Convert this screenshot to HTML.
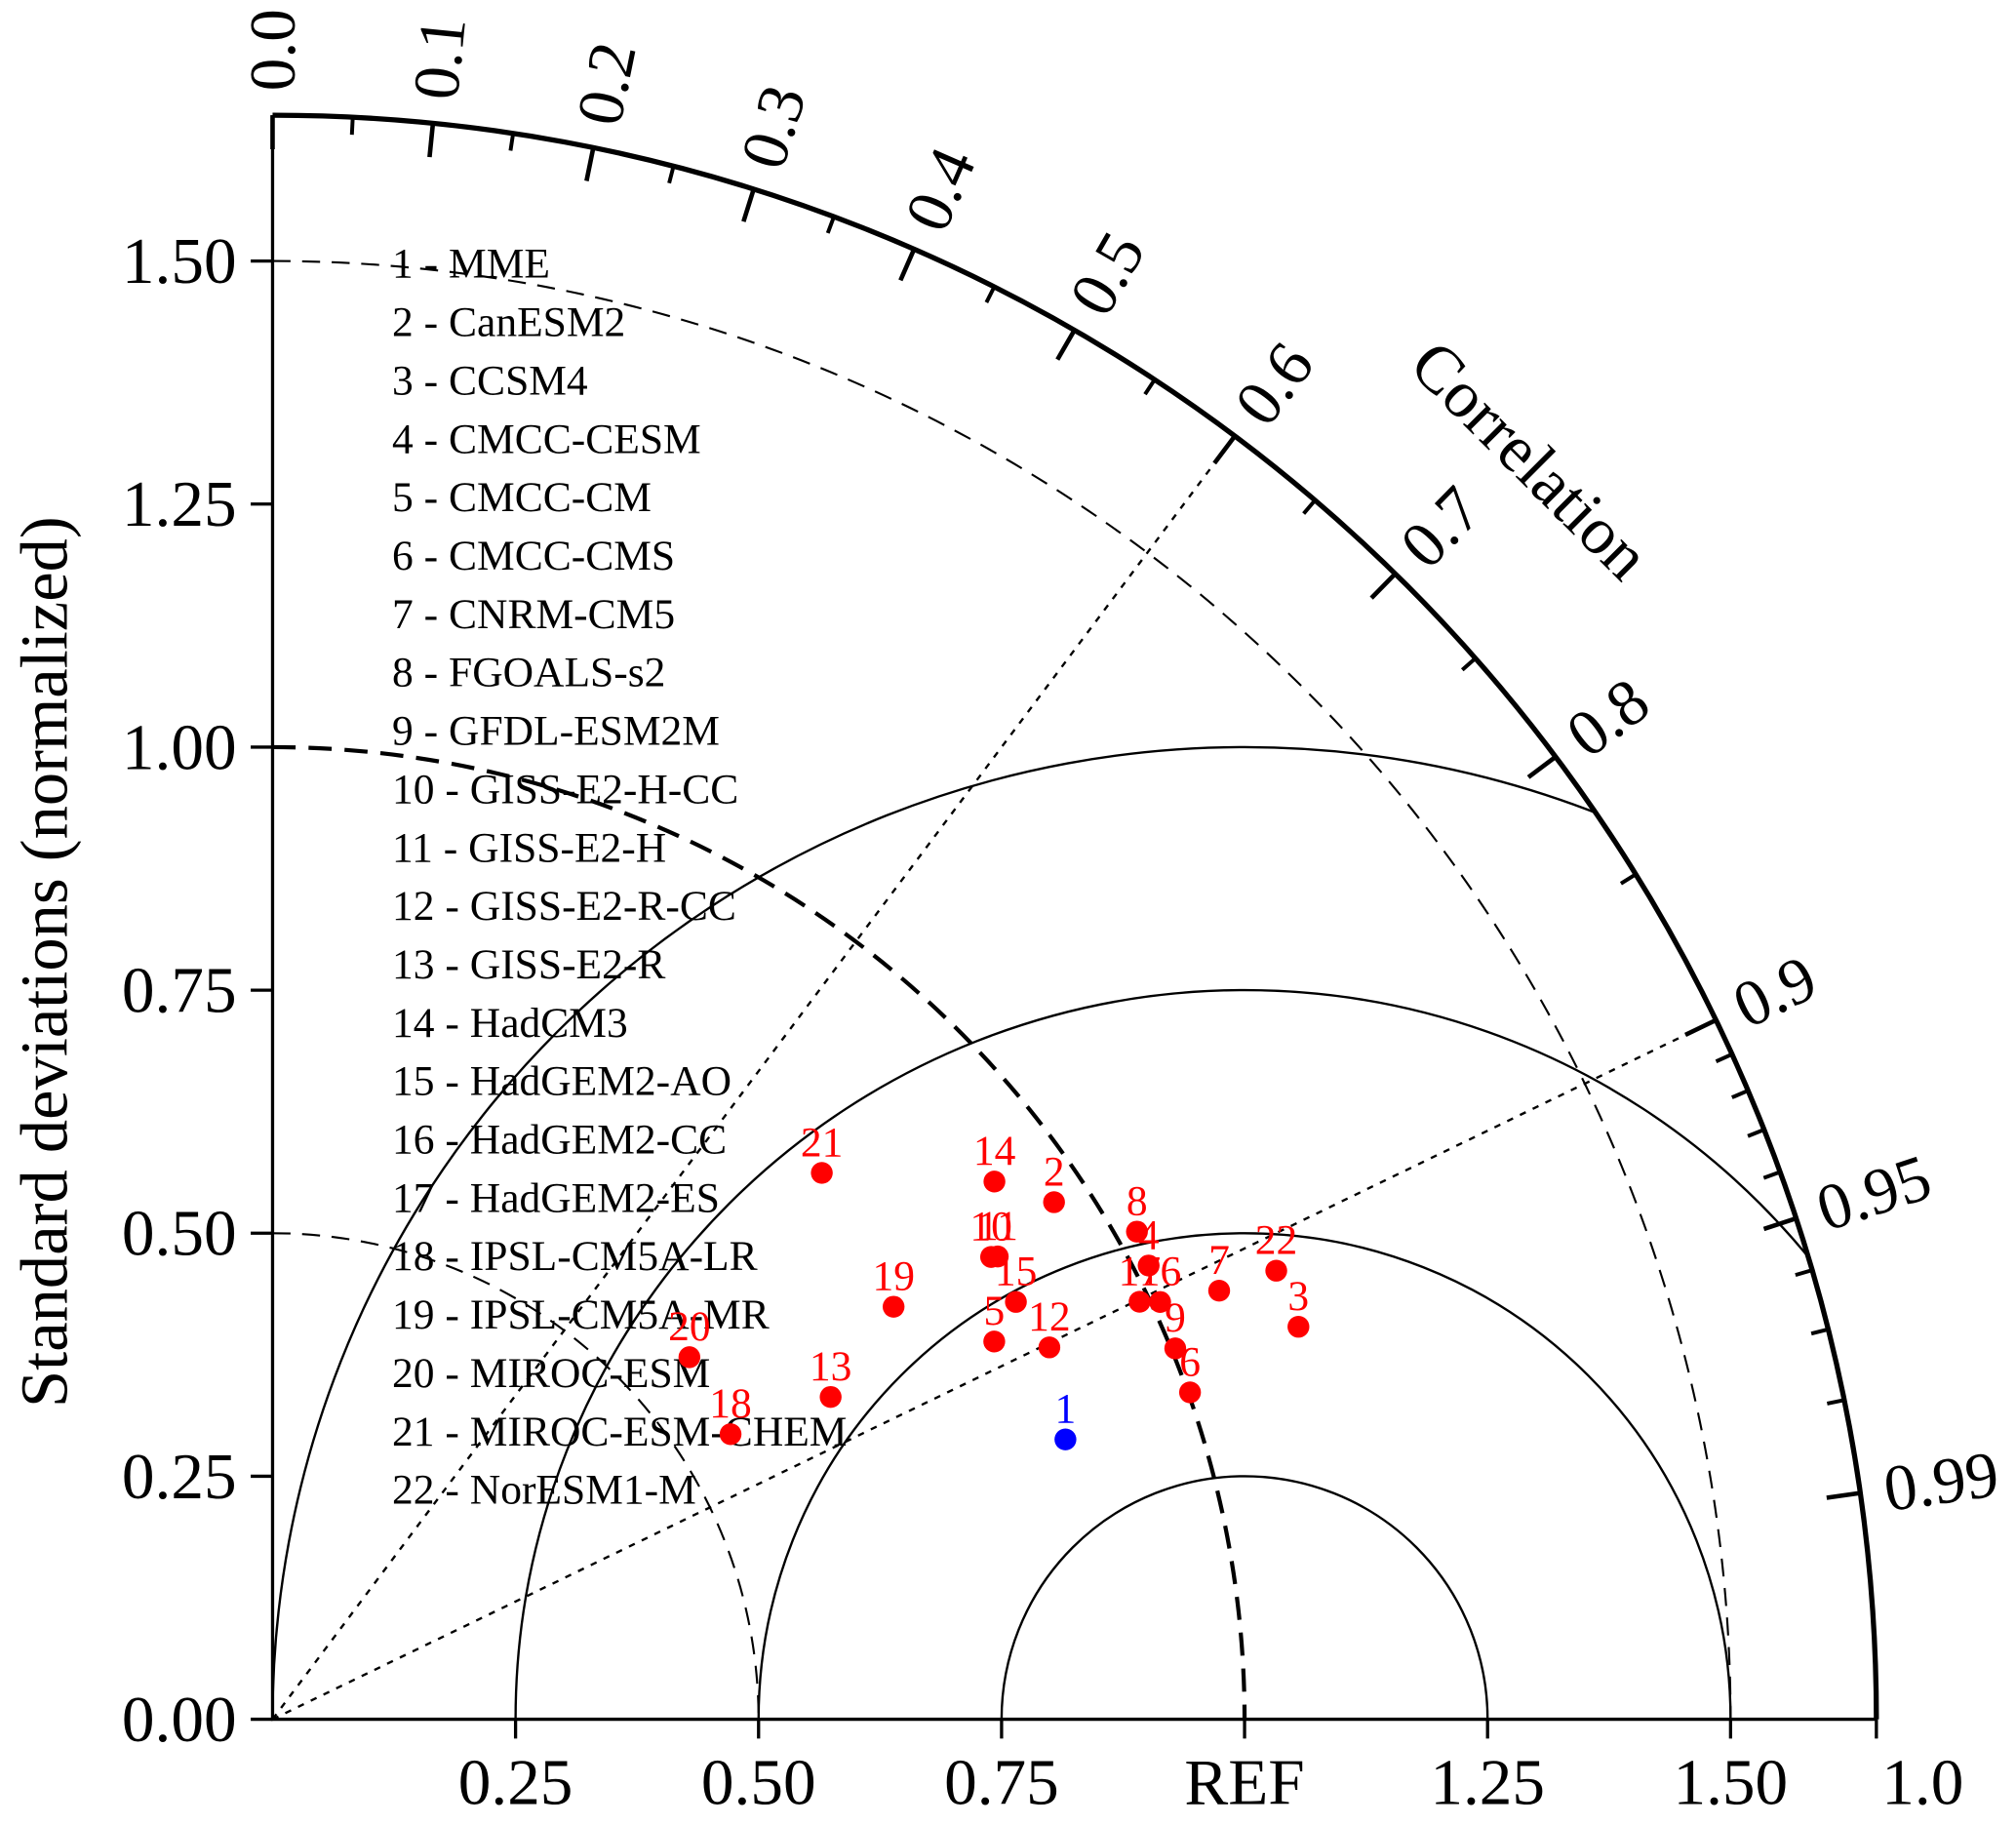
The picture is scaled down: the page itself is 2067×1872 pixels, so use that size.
<!DOCTYPE html>
<html><head><meta charset="utf-8"><style>
html,body{margin:0;padding:0;background:#fff;overflow:hidden;width:2067px;height:1872px;}
svg{display:block;font-family:"Liberation Serif",serif;}
</style></head><body>
<svg id="chart" width="2067" height="1872" viewBox="0 0 1568 1420" preserveAspectRatio="none" xmlns="http://www.w3.org/2000/svg">
<defs><clipPath id="clipQ"><path d="M212,1337 L212,90 A1247,1247 0 0 1 1459,1337 Z"/></clipPath></defs>
<g id="g"></g>
</svg>
<script>
const labels=["1 - MME","2 - CanESM2","3 - CCSM4","4 - CMCC-CESM","5 - CMCC-CM","6 - CMCC-CMS","7 - CNRM-CM5","8 - FGOALS-s2","9 - GFDL-ESM2M","10 - GISS-E2-H-CC","11 - GISS-E2-H","12 - GISS-E2-R-CC","13 - GISS-E2-R","14 - HadCM3","15 - HadGEM2-AO","16 - HadGEM2-CC","17 - HadGEM2-ES","18 - IPSL-CM5A-LR","19 - IPSL-CM5A-MR","20 - MIROC-ESM","21 - MIROC-ESM-CHEM","22 - NorESM1-M"];
const stdDev=[0.865,0.964,1.130,1.015,0.838,1.002,1.069,1.021,1.004,0.879,0.885,0.886,0.663,0.926,0.877,1.009,0.990,0.555,0.767,0.568,0.797,1.131];
const corr=[0.943,0.834,0.934,0.888,0.886,0.942,0.911,0.871,0.925,0.841,0.843,0.902,0.866,0.802,0.872,0.905,0.901,0.849,0.833,0.755,0.709,0.913];
const yTicks=[0,0.25,0.5,0.75,1.0,1.25,1.5];
const yTickLabels=["0.00","0.25","0.50","0.75","1.00","1.25","1.50"];
const xTicks=[0.25,0.5,0.75,1.0,1.25,1.5,1.65];
const xTickLabels=["0.25","0.50","0.75","REF","1.25","1.50","1.0"];
const corrMajor=[0,0.1,0.2,0.3,0.4,0.5,0.6,0.7,0.8,0.9,0.95,0.99];
const corrMajorLabels=["0.0","0.1","0.2","0.3","0.4","0.5","0.6","0.7","0.8","0.9","0.95","0.99"];
const corrMinor=[0.05,0.15,0.25,0.35,0.45,0.55,0.65,0.75,0.85,0.91,0.92,0.93,0.94,0.96,0.97,0.98];

const OX=212,OY=1337,U=756,RMAX=1.65;
const px=v=>OX+v*U, py=v=>OY-v*U;
const NS="http://www.w3.org/2000/svg";
const g=document.getElementById('g');
function el(t,a,parent){const e=document.createElementNS(NS,t);for(const k in a)e.setAttribute(k,a[k]);(parent||g).appendChild(e);return e;}
function polar(r,c){const th=Math.acos(c);return [px(r*Math.cos(th)),py(r*Math.sin(th))];}

const cg=el('g',{'clip-path':'url(#clipQ)'});


[0.25,0.5,0.75,1.0].forEach(r=>{
  const c=el('circle',{cx:px(1),cy:OY,r:r*U,fill:'none',stroke:'#000','stroke-width':1.8},cg);
  
  
});
[[0.5,1.6,'14,9'],[1.0,3.2,'18,10'],[1.5,1.6,'14,9']].forEach(([r,w,d])=>{
  const a=el('path',{d:`M${px(0)},${py(r)} A${r*U},${r*U} 0 0 1 ${px(r)},${OY}`,fill:'none',stroke:'#000','stroke-width':w,'stroke-dasharray':d});
  
  
});
[0.6,0.9].forEach(c=>{
  const [x,y]=polar(RMAX,c);
  const l=el('line',{x1:OX,y1:OY,x2:x,y2:y,stroke:'#000','stroke-width':1.8,'stroke-dasharray':'5,6'});
  
  
});
const ax=el('path',{d:`M${OX},${py(RMAX)} L${OX},${OY} L${px(RMAX)},${OY}`,fill:'none',stroke:'#000','stroke-width':2.5});


const oa=el('path',{d:`M${OX},${py(RMAX)} A${RMAX*U},${RMAX*U} 0 0 1 ${px(RMAX)},${OY}`,fill:'none',stroke:'#000','stroke-width':4});


yTicks.forEach((v,i)=>{
  el('line',{x1:OX-17,y1:py(v),x2:OX,y2:py(v),stroke:'#000','stroke-width':2.5});
  const t=el('text',{x:OX-28,y:py(v)+17,'text-anchor':'end','font-size':51});
  t.textContent=yTickLabels[i];
  
  
});
xTicks.forEach((v,i)=>{
  el('line',{x1:px(v),y1:OY,x2:px(v),y2:OY+15,stroke:'#000','stroke-width':2.5});
  const t=el('text',{x:px(v)+(i==6?36:0),y:OY+66,'text-anchor':'middle','font-size':51});
  t.textContent=xTickLabels[i];
  
  
});
corrMajor.forEach((c,i)=>{
  const [x1,y1]=polar(RMAX,c),[x2,y2]=polar(RMAX-0.035,c);
  el('line',{x1,y1,x2,y2,stroke:'#000','stroke-width':3.5});
  const th=Math.acos(c),deg=th*180/Math.PI;
  const [lx,ly]=polar(RMAX+0.025,c);
  const t=el('text',{x:lx,y:ly,'font-size':51,transform:`rotate(${-deg} ${lx} ${ly}) translate(0 17)`});
  t.textContent=corrMajorLabels[i];
  
  
});
corrMinor.forEach(c=>{
  const [x1,y1]=polar(RMAX,c),[x2,y2]=polar(RMAX-0.018,c);
  el('line',{x1,y1,x2,y2,stroke:'#000','stroke-width':3});
});
let t=el('text',{x:1190,y:358,'text-anchor':'middle','font-size':52,transform:'rotate(45 1190 358) translate(0 17)'});
t.textContent='Correlation';


t=el('text',{x:52,y:748,'text-anchor':'middle','font-size':52,transform:'rotate(-90 52 748)'});
t.textContent='Standard deviations (normalized)';


labels.forEach((s,i)=>{
  const e=el('text',{x:305,y:216+i*45.4,'font-size':33});
  e.textContent=s;
  
  
});
stdDev.forEach((r,i)=>{
  const [x,y]=polar(r,corr[i]);
  const col=i==0?'#0000ff':'#ff0000';
  const p=el('circle',{cx:x,cy:y,r:8.5,fill:col});
  
  
  const l=el('text',{x:x,y:y-13,'text-anchor':'middle','font-size':33,fill:col});
  l.textContent=String(i+1);
  
  
});
</script>
</body></html>
